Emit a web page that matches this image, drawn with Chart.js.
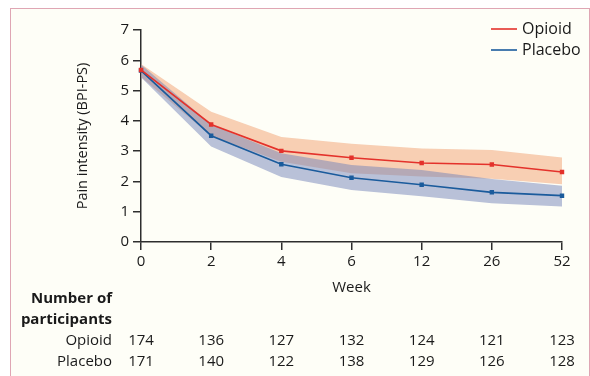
<!DOCTYPE html>
<html>
<head>
<meta charset="utf-8">
<script src="https://cdn.jsdelivr.net/npm/chart.js@4"></script>
<style>
  html, body { margin: 0; padding: 0; background: #ffffff; }
  #frame { position: absolute; left: 10px; top: 8px; width: 578px; height: 380px;
           border: 1.5px solid #dfa6b4; border-bottom: none; background: #fefef7; }
  #wrap { position: absolute; left: 0; top: 0; width: 590px; height: 376px; }
</style>
</head>
<body>
<div id="frame"></div>
<div id="wrap"><canvas id="c" width="590" height="376"></canvas></div>
<script>
const weeks = ['0', '2', '4', '6', '12', '26', '52'];
const opioidMean  = [5.68, 3.88, 3.01, 2.78, 2.61, 2.56, 2.31];
const opioidUpper = [5.88, 4.30, 3.47, 3.24, 3.09, 3.04, 2.79];
const opioidLower = [5.45, 3.50, 2.65, 2.27, 2.16, 2.09, 1.91];
const placeboMean  = [5.66, 3.51, 2.57, 2.12, 1.89, 1.64, 1.53];
const placeboUpper = [5.86, 3.88, 2.93, 2.54, 2.38, 2.08, 1.86];
const placeboLower = [5.44, 3.15, 2.15, 1.72, 1.51, 1.28, 1.17];
const opioidN  = [174, 136, 127, 132, 124, 121, 123];
const placeboN = [171, 140, 122, 138, 129, 126, 128];
const seriesNames = ['Opioid', 'Placebo'];
const rowTitle = ['Number of', 'participants'];
const xTitle = 'Week';
const yTitle = 'Pain intensity (BPI-PS)';

const RED = '#e4322b';
const BLUE = '#1a5b9c';
const FONT = "'Open Sans', sans-serif";
const AXIS = '#2e2e2e';
const TXT = '#1a1a1a';

const tablePlugin = {
  id: 'tableAndLegend',
  afterDraw(chart) {
    const ctx = chart.ctx;
    const xs = chart.scales.x;
    ctx.save();
    ctx.fillStyle = TXT;
    ctx.font = "bold 15px " + FONT;
    ctx.textAlign = 'right';
    ctx.textBaseline = 'middle';
    ctx.fillText(rowTitle[0], 112, 299);
    ctx.fillText(rowTitle[1], 112, 320);
    ctx.font = "15px " + FONT;
    ctx.fillText(seriesNames[0], 112, 341);
    ctx.fillText(seriesNames[1], 112, 362);
    ctx.textAlign = 'center';
    weeks.forEach((w, i) => {
      const x = xs.getPixelForValue(i);
      ctx.fillText(String(opioidN[i]), x, 341);
      ctx.fillText(String(placeboN[i]), x, 362);
    });
    const items = [[seriesNames[0], RED, 29], [seriesNames[1], BLUE, 50]];
    ctx.textAlign = 'left';
    ctx.font = "16px " + FONT;
    items.forEach(([t, c, y]) => {
      ctx.strokeStyle = c;
      ctx.lineWidth = 1.6;
      ctx.beginPath();
      ctx.moveTo(491, y);
      ctx.lineTo(517, y);
      ctx.stroke();
      ctx.fillStyle = TXT;
      ctx.fillText(t, 522, y);
    });
    ctx.restore();
  }
};

const bandBase = { borderWidth: 0, pointRadius: 0, pointHoverRadius: 0, tension: 0 };

new Chart(document.getElementById('c'), {
  type: 'line',
  data: {
    labels: weeks,
    datasets: [
      { label: seriesNames[0], data: opioidMean, borderColor: RED, backgroundColor: RED,
        borderWidth: 1.6, pointStyle: 'rect', pointRadius: 2, fill: false, tension: 0 },
      { label: seriesNames[1], data: placeboMean, borderColor: BLUE, backgroundColor: BLUE,
        borderWidth: 1.6, pointStyle: 'rect', pointRadius: 2, fill: false, tension: 0 },
      Object.assign({ label: 'pu', data: placeboUpper, fill: '+1',
        backgroundColor: 'rgba(116,132,186,0.5)', borderColor: 'rgba(0,0,0,0)' }, bandBase),
      Object.assign({ label: 'pl', data: placeboLower, fill: false,
        borderColor: 'rgba(0,0,0,0)' }, bandBase),
      Object.assign({ label: 'ou', data: opioidUpper, fill: '+1',
        backgroundColor: 'rgba(241,160,112,0.5)', borderColor: 'rgba(0,0,0,0)' }, bandBase),
      Object.assign({ label: 'ol', data: opioidLower, fill: false,
        borderColor: 'rgba(0,0,0,0)' }, bandBase)
    ]
  },
  options: {
    responsive: false,
    animation: false,
    events: [],
    layout: { padding: { left: 10, right: 28, top: 30, bottom: 0 } },
    plugins: {
      legend: { display: false },
      tooltip: { enabled: false },
      filler: { propagate: false }
    },
    scales: {
      x: {
        type: 'category',
        offset: false,
        grid: { drawOnChartArea: false, drawTicks: true, tickLength: 8, color: AXIS, lineWidth: 1.5 },
        border: { display: true, color: AXIS, width: 1.5 },
        ticks: { color: TXT, font: { family: FONT, size: 15 }, padding: 3, maxRotation: 0, autoSkip: false },
        title: { display: true, text: xTitle, color: TXT, font: { family: FONT, size: 15 },
                 padding: { top: 0, bottom: 79 } },
        afterFit(s) { s.height = 134; }
      },
      y: {
        min: 0, max: 7,
        grid: { drawOnChartArea: false, drawTicks: true, tickLength: 8, color: AXIS, lineWidth: 1.5 },
        border: { display: true, color: AXIS, width: 1.5 },
        ticks: { stepSize: 1, color: TXT, font: { family: FONT, size: 15 }, padding: 4 },
        title: { display: true, text: yTitle, color: TXT, font: { family: FONT, size: 14.5 },
                 padding: { top: 64, bottom: 0 } },
        afterFit(s) { s.width = 131; }
      }
    }
  },
  plugins: [tablePlugin]
});
</script>
</body>
</html>
